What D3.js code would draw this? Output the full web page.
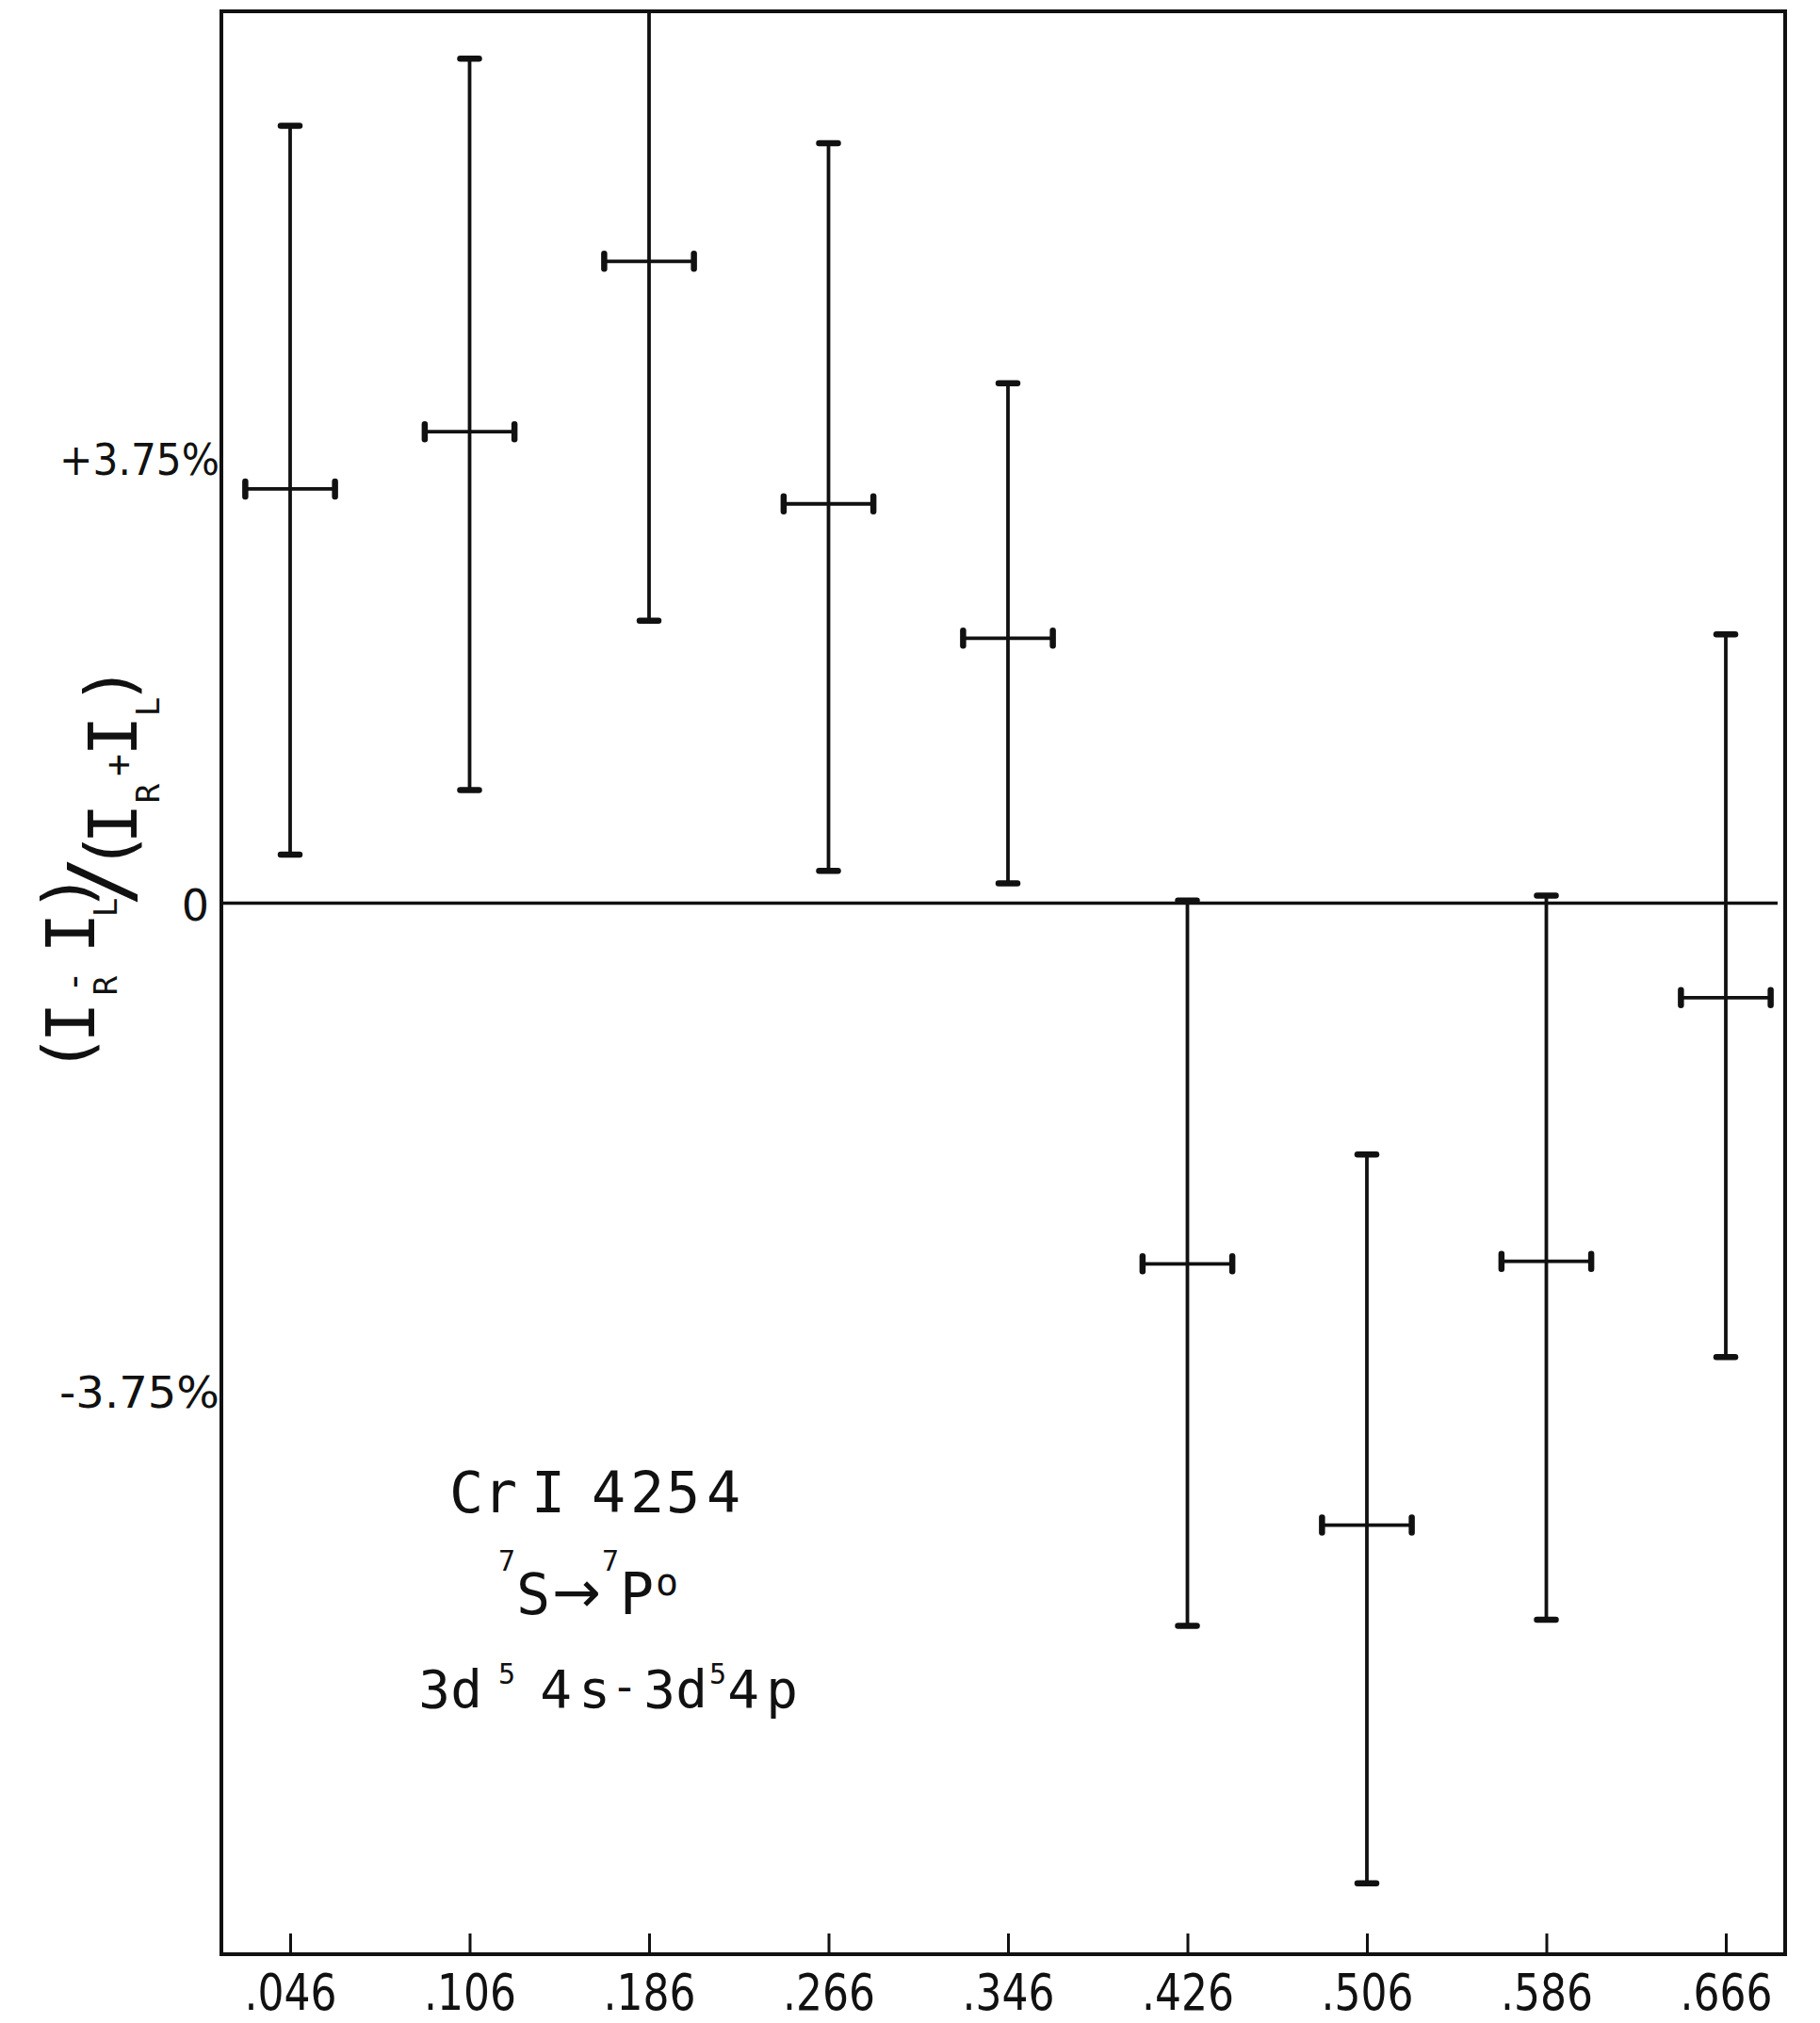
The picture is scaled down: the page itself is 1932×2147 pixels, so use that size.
<!DOCTYPE html>
<html><head><meta charset="utf-8">
<script src="https://cdn.jsdelivr.net/npm/d3@7"></script>
<style>html,body{margin:0;padding:0;background:#fff;} svg{display:block}</style>
</head><body>
<svg id="chart" width="1932" height="2147"></svg>
<script>
// ---- data (percent asymmetry) ----
const categories   = [".046", ".106", ".186", ".266", ".346", ".426", ".506", ".586", ".666"];
const centerValues = [3.33, 3.79, 5.16, 3.21, 2.13, -2.90, -5.00, -2.88, -0.76];
const upperValues  = [6.25, 6.79, 8.05, 6.11, 4.18, 0.02, -2.02, 0.06, 2.16];
const lowerValues  = [0.39, 0.91, 2.27, 0.26, 0.16, -5.81, -7.88, -5.76, -3.65];
const yTickValues  = [3.75, 0, -3.75];
const yTickLabels  = ["+3.75%", "0", "-3.75%"];

const points = categories.map((c, i) => ({c, v: centerValues[i], hi: upperValues[i], lo: lowerValues[i]}));

// ---- layout ----
const frame = {left: 235, right: 1895, top: 12, bottom: 2074};
const svg = d3.select("#chart");
const x = d3.scalePoint().domain(categories).range([308, 1832]);
const y = d3.scaleLinear().domain([-8.45, 7.17]).range([frame.bottom, frame.top]);
const ink = "#111";

svg.append("defs").append("clipPath").attr("id", "plotclip")
  .append("rect").attr("x", frame.left).attr("y", frame.top)
  .attr("width", frame.right - frame.left).attr("height", frame.bottom - frame.top);

// frame
svg.append("rect").attr("x", frame.left).attr("y", frame.top)
  .attr("width", frame.right - frame.left).attr("height", frame.bottom - frame.top)
  .attr("fill", "none").attr("stroke", ink).attr("stroke-width", 4);

// zero line
svg.append("line").attr("x1", frame.left).attr("x2", frame.right - 8)
  .attr("y1", y(0)).attr("y2", y(0)).attr("stroke", ink).attr("stroke-width", 3.5);

// bottom axis
const xAxis = svg.append("g").attr("transform", `translate(0,${frame.bottom})`)
  .call(d3.axisBottom(x).tickSize(-22).tickPadding(0));
xAxis.select(".domain").remove();
xAxis.selectAll(".tick line").attr("stroke", ink).attr("stroke-width", 3);
xAxis.selectAll(".tick text")
  .attr("y", 59).attr("dy", 0)
  .attr("font-family", "DejaVu Sans").attr("font-size", 54).attr("fill", ink)
  .attr("textLength", 98).attr("lengthAdjust", "spacingAndGlyphs");

// left axis labels
const yAxis = svg.append("g").attr("transform", `translate(${frame.left},0)`)
  .call(d3.axisLeft(y).tickValues(yTickValues).tickSize(0).tickPadding(0)
    .tickFormat((d, i) => yTickLabels[i]));
yAxis.select(".domain").remove();
yAxis.selectAll(".tick text")
  .attr("font-family", "DejaVu Sans").attr("fill", ink).attr("dy", 0)
  .attr("font-size", d => d === 0 ? 46 : 47)
  .attr("x", d => d === 0 ? -13 : -2)
  .attr("y", d => d === 0 ? 18 : 40)
  .each(function(d) {
    if (d !== 0) d3.select(this).attr("textLength", 170).attr("lengthAdjust", "spacingAndGlyphs");
  });

// error bars
const g = svg.append("g").attr("clip-path", "url(#plotclip)");
const halfW = x.step() * 0.25;
g.selectAll("line.vbar").data(points).join("line").attr("class", "vbar")
  .attr("x1", d => x(d.c)).attr("x2", d => x(d.c))
  .attr("y1", d => y(d.hi)).attr("y2", d => y(d.lo))
  .attr("stroke", ink).attr("stroke-width", 3.8);
g.selectAll("line.hbar").data(points).join("line").attr("class", "hbar")
  .attr("x1", d => x(d.c) - halfW).attr("x2", d => x(d.c) + halfW)
  .attr("y1", d => y(d.v)).attr("y2", d => y(d.v))
  .attr("stroke", ink).attr("stroke-width", 3.8);
// caps on vertical bars
const vcaps = points.flatMap(d => [{c: d.c, v: d.hi}, {c: d.c, v: d.lo}]);
g.selectAll("line.vcap").data(vcaps).join("line").attr("class", "vcap")
  .attr("x1", d => x(d.c) - 10).attr("x2", d => x(d.c) + 10)
  .attr("y1", d => y(d.v)).attr("y2", d => y(d.v))
  .attr("stroke", ink).attr("stroke-width", 6.5).attr("stroke-linecap", "round");
// caps on horizontal bars
const hcaps = points.flatMap(d => [{c: d.c, v: d.v, s: -1}, {c: d.c, v: d.v, s: 1}]);
g.selectAll("line.hcap").data(hcaps).join("line").attr("class", "hcap")
  .attr("x1", d => x(d.c) + d.s * halfW).attr("x2", d => x(d.c) + d.s * halfW)
  .attr("y1", d => y(d.v) - 8).attr("y2", d => y(d.v) + 8)
  .attr("stroke", ink).attr("stroke-width", 6.5).attr("stroke-linecap", "round");

// y-axis title (rotated)  (I_R - I_L)/(I_R + I_L)
const titlePieces = [
  // [text, centre y on screen, baseline x on screen, font size]
  ["(", 1118, 96, 72], ["I", 1085, 100, 72], ["R", 1046, 124, 34], ["-", 1042, 92, 40],
  ["I", 990, 100, 72], ["L", 963, 124, 34], [")", 947, 96, 72], ["/", 935, 138, 90],
  ["(", 903, 141, 72], ["I", 874, 145, 72], ["R", 842, 169, 34], ["+", 812, 139, 40],
  ["I", 781, 145, 72], ["L", 750, 169, 34], [")", 727, 141, 72]
];
const title = svg.append("text").attr("transform", "rotate(-90)")
  .attr("font-family", "DejaVu Sans Mono").attr("fill", ink).attr("text-anchor", "middle");
title.selectAll("tspan").data(titlePieces).join("tspan")
  .attr("x", d => -d[1]).attr("y", d => d[2])
  .attr("font-size", d => d[3]).text(d => d[0]);

// annotation (one text element per line)
const annotLines = [
  // pieces: [text, centre x, baseline y, font size, family]
  [["C", 495, 1605, 60], ["r", 531, 1605, 60], ["I", 582, 1605, 60], ["4", 646, 1605, 60],
   ["2", 687, 1605, 60], ["5", 725, 1605, 60], ["4", 768, 1605, 60]],
  [["7", 538, 1667, 30], ["S", 566, 1713, 60], ["\u2192", 612, 1711, 62, "DejaVu Sans"],
   ["7", 648, 1667, 30], ["P", 676, 1713, 60], ["o", 708, 1693, 40]],
  [["3", 461, 1812, 56], ["d", 495, 1812, 56], ["5", 538, 1787, 30], ["4", 590, 1812, 56],
   ["s", 631, 1812, 56], ["-", 663, 1806, 48], ["3", 700, 1812, 56], ["d", 734, 1812, 56],
   ["5", 762, 1787, 30], ["4", 789, 1812, 56], ["p", 830, 1812, 56]]
];
annotLines.forEach(line => {
  const t = svg.append("text").attr("text-anchor", "middle")
    .attr("font-family", "DejaVu Sans Mono").attr("fill", ink);
  t.selectAll("tspan").data(line).join("tspan")
    .attr("x", d => d[1]).attr("y", d => d[2]).attr("font-size", d => d[3])
    .attr("font-family", d => d[4] || null).text(d => d[0]);
});
</script>
</body></html>
